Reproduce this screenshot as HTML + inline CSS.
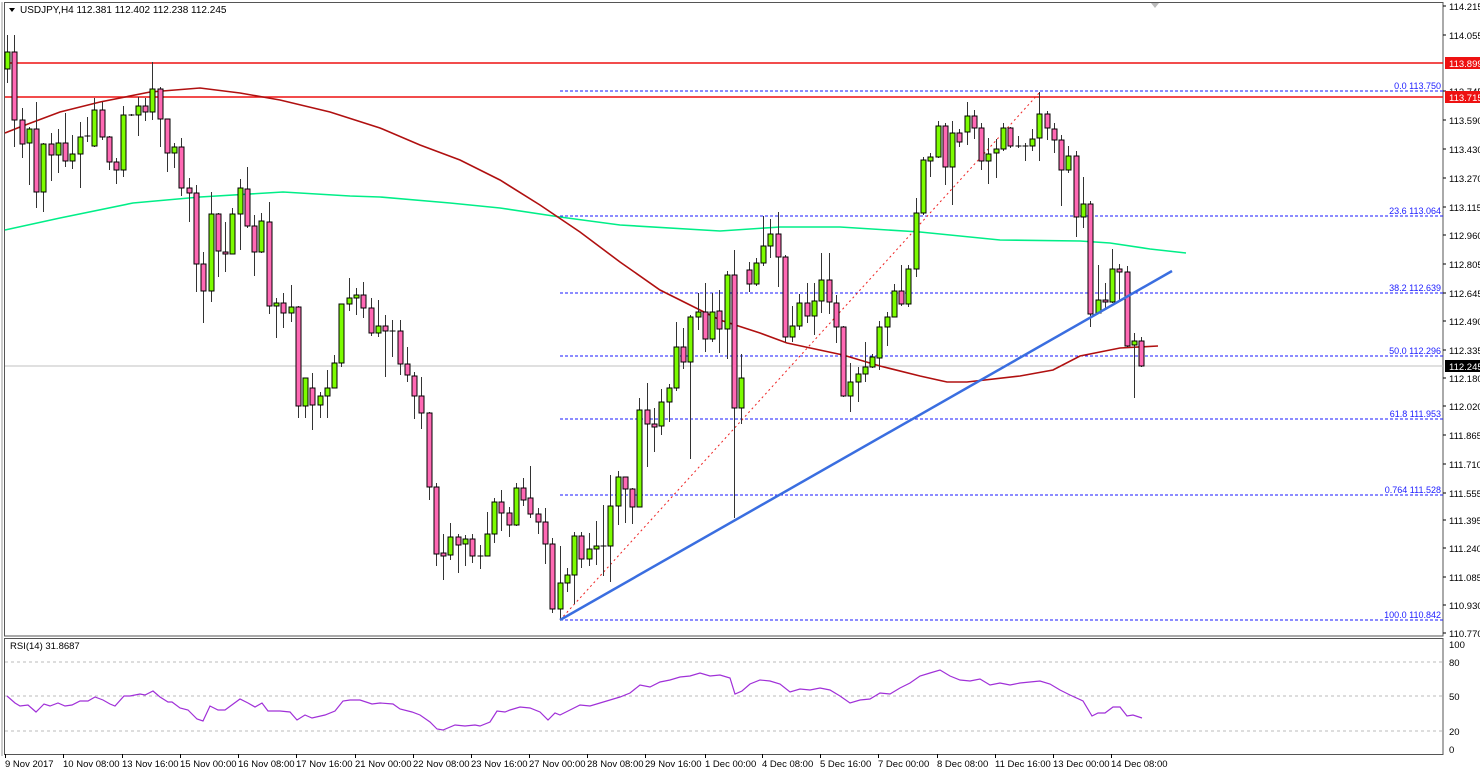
<!DOCTYPE html>
<html><head><meta charset="utf-8"><style>
html,body{margin:0;padding:0;background:#fff;}
svg{display:block;font-family:"Liberation Sans",sans-serif;}
</style></head><body>
<svg id="s" width="1480" height="772" xmlns="http://www.w3.org/2000/svg">
<rect width="1480" height="772" fill="#fff"/>
<!-- frames -->
<rect x="4.5" y="2.5" width="1438.5" height="633.5" fill="none" stroke="#555" stroke-width="1"/>
<line x1="2" y1="2" x2="2" y2="756" stroke="#999"/>
<rect x="4.5" y="638.5" width="1438.5" height="116" fill="none" stroke="#555" stroke-width="1"/>
<polygon points="1151,3 1159,3 1155,8" fill="#bbb"/>
<!-- horizontal red levels -->
<line x1="5" y1="63" x2="1443" y2="63" stroke="#ee1111" stroke-width="1.5"/>
<line x1="5" y1="97" x2="1443" y2="97" stroke="#ee1111" stroke-width="1.5"/>
<!-- current price line -->
<line x1="5" y1="366" x2="1443" y2="366" stroke="#c0c0c0" stroke-width="1"/>
<!-- fib lines -->
<g stroke="#1a1aff" stroke-width="1" stroke-dasharray="3,2">
<line x1="560" y1="91" x2="1443" y2="91"/>
<line x1="560" y1="216" x2="1443" y2="216"/>
<line x1="560" y1="293" x2="1443" y2="293"/>
<line x1="560" y1="356" x2="1443" y2="356"/>
<line x1="560" y1="419" x2="1443" y2="419"/>
<line x1="560" y1="495" x2="1443" y2="495"/>
<line x1="560" y1="620" x2="1443" y2="620"/>
</g>
<g fill="#2020ff" font-size="9" text-anchor="end">
<text x="1441" y="89">0.0 113.750</text>
<text x="1441" y="214">23.6 113.064</text>
<text x="1441" y="291">38.2 112.639</text>
<text x="1441" y="354">50.0 112.296</text>
<text x="1441" y="417">61.8 111.953</text>
<text x="1441" y="493">0.764 111.528</text>
<text x="1441" y="618">100.0 110.842</text>
</g>
<line x1="560" y1="620" x2="1041" y2="91" stroke="#ee2222" stroke-width="1" stroke-dasharray="2,3"/>
<!-- MAs -->
<polyline fill="none" stroke="#00ee88" stroke-width="1.6" points="5,230 60,218 133,203 200,197 283,192 350,196 380,197 450,203 500,208 560,217 620,225 720,231 780,227 840,227 920,232 1000,240 1080,241 1110,243 1150,249 1186,253"/>
<polyline fill="none" stroke="#b01010" stroke-width="1.6" points="5,133 20,127 60,112 100,102 150,92 200,88 240,93 280,100 330,112 380,128 420,145 460,160 500,180 540,205 580,232 620,262 660,290 700,310 720,320 760,333 787,343 843,355 880,366 920,376 947,382 967,382 1020,376 1053,370 1080,356 1120,348 1158,346"/>
<g id="candles"></g>
<line x1="560" y1="620" x2="1172" y2="271" stroke="#3a6ee0" stroke-width="2.5"/>
<!-- title -->
<polygon points="9,8 15,8 12,12" fill="#000"/>
<text x="20" y="13" font-size="10" fill="#000">USDJPY,H4  112.381 112.402 112.238 112.245</text>
<!-- price axis -->
<g font-size="9.5" fill="#000" id="pax">
<text x="1449" y="10">114.215</text>
<text x="1449" y="39">114.055</text>
<text x="1449" y="95">113.745</text>
<text x="1449" y="124">113.590</text>
<text x="1449" y="153">113.430</text>
<text x="1449" y="182">113.270</text>
<text x="1449" y="211">113.115</text>
<text x="1449" y="239">112.960</text>
<text x="1449" y="268">112.805</text>
<text x="1449" y="297">112.645</text>
<text x="1449" y="325">112.490</text>
<text x="1449" y="354">112.335</text>
<text x="1449" y="382">112.180</text>
<text x="1449" y="410">112.020</text>
<text x="1449" y="439">111.865</text>
<text x="1449" y="468">111.710</text>
<text x="1449" y="497">111.555</text>
<text x="1449" y="524">111.395</text>
<text x="1449" y="552">111.240</text>
<text x="1449" y="581">111.085</text>
<text x="1449" y="609">110.930</text>
<text x="1449" y="637">110.770</text>
</g>
<g stroke="#000">
<line x1="1443" y1="6" x2="1446" y2="6"/><line x1="1443" y1="35" x2="1446" y2="35"/><line x1="1443" y1="91" x2="1446" y2="91"/><line x1="1443" y1="120" x2="1446" y2="120"/><line x1="1443" y1="149" x2="1446" y2="149"/><line x1="1443" y1="178" x2="1446" y2="178"/><line x1="1443" y1="207" x2="1446" y2="207"/><line x1="1443" y1="235" x2="1446" y2="235"/><line x1="1443" y1="264" x2="1446" y2="264"/><line x1="1443" y1="293" x2="1446" y2="293"/><line x1="1443" y1="321" x2="1446" y2="321"/><line x1="1443" y1="350" x2="1446" y2="350"/><line x1="1443" y1="378" x2="1446" y2="378"/><line x1="1443" y1="406" x2="1446" y2="406"/><line x1="1443" y1="435" x2="1446" y2="435"/><line x1="1443" y1="464" x2="1446" y2="464"/><line x1="1443" y1="493" x2="1446" y2="493"/><line x1="1443" y1="520" x2="1446" y2="520"/><line x1="1443" y1="548" x2="1446" y2="548"/><line x1="1443" y1="577" x2="1446" y2="577"/><line x1="1443" y1="605" x2="1446" y2="605"/><line x1="1443" y1="633" x2="1446" y2="633"/>
</g>
<rect x="1445" y="57" width="35" height="12" fill="#ee1111"/>
<text x="1449" y="67" font-size="9.5" fill="#fff">113.899</text>
<rect x="1445" y="91" width="35" height="12" fill="#ee1111"/>
<text x="1449" y="101" font-size="9.5" fill="#fff">113.715</text>
<rect x="1445" y="360" width="35" height="12" fill="#000"/>
<text x="1449" y="370" font-size="9.5" fill="#fff">112.245</text>
<!-- RSI -->
<text x="10" y="649" font-size="9.5" fill="#000">RSI(14) 31.8687</text>
<g stroke="#bbb" stroke-dasharray="3,3">
<line x1="5" y1="662" x2="1443" y2="662"/>
<line x1="5" y1="696" x2="1443" y2="696"/>
<line x1="5" y1="731" x2="1443" y2="731"/>
</g>
<g font-size="9.5" fill="#000">
<text x="1449" y="648">100</text><text x="1449" y="666">80</text><text x="1449" y="700">50</text><text x="1449" y="735">20</text><text x="1449" y="753">0</text>
</g>
<polyline fill="none" stroke="#a030d8" stroke-width="1.2" points="7,696 15,703 20,706 28,705 36,712 44,704 50,706 58,703 65,706 72,705 80,701 88,701 95,697 103,700 110,704 115,706 124,696 130,696 140,694 145,695 153,691 160,697 168,702 172,702 180,708 188,710 197,719 203,721 210,706 218,710 225,710 240,699 248,703 255,707 262,703 268,711 280,711 290,712 297,720 305,715 312,718 325,715 335,711 343,701 350,700 360,700 372,704 380,703 393,704 400,709 412,712 420,715 430,722 437,729 443,730 455,725 465,726 475,725 480,726 490,722 497,711 505,712 510,710 520,707 530,708 540,712 548,720 555,713 560,715 570,710 580,705 590,706 600,703 610,700 620,697 630,693 640,685 650,687 660,682 670,680 680,677 690,676 700,673 710,676 720,675 730,678 735,694 742,691 750,684 760,680 770,681 780,684 790,692 800,689 810,690 820,688 830,690 840,696 850,703 860,700 870,699 880,693 890,694 900,688 910,683 920,676 930,673 940,670 950,676 960,680 970,681 980,679 990,685 1000,683 1010,685 1020,683 1030,682 1040,681 1050,684 1060,690 1070,695 1083,701 1092,716 1098,713 1105,713 1113,707 1120,707 1127,716 1133,715 1142,718"/>
<!-- time axis -->
<g font-size="9.5" fill="#000">
<text x="5" y="767">9 Nov 2017</text>
<text x="63" y="767">10 Nov 08:00</text>
<text x="122" y="767">13 Nov 16:00</text>
<text x="180" y="767">15 Nov 00:00</text>
<text x="238" y="767">16 Nov 08:00</text>
<text x="296" y="767">17 Nov 16:00</text>
<text x="355" y="767">21 Nov 00:00</text>
<text x="413" y="767">22 Nov 08:00</text>
<text x="471" y="767">23 Nov 16:00</text>
<text x="529" y="767">27 Nov 00:00</text>
<text x="587" y="767">28 Nov 08:00</text>
<text x="645" y="767">29 Nov 16:00</text>
<text x="705" y="767">1 Dec 00:00</text>
<text x="762" y="767">4 Dec 08:00</text>
<text x="820" y="767">5 Dec 16:00</text>
<text x="878" y="767">7 Dec 00:00</text>
<text x="937" y="767">8 Dec 08:00</text>
<text x="995" y="767">11 Dec 16:00</text>
<text x="1053" y="767">13 Dec 00:00</text>
<text x="1111" y="767">14 Dec 08:00</text>
</g>
<g id="tticks" stroke="#000"></g>
</svg>
<script>
var d=[[69,52,35,83],[52,120,35,147],[120,144,108,158],[143,129,127,185],[129,192,102,208],[192,144,143,212],[144,155,133,181],[155,143,129,173],[143,161,113,167],[161,154,135,169],[154,137,122,188],[136,136,117,142],[146,110,98,147],[110,137,102,140],[137,162,136,170],[162,170,158,184],[170,115,106,177],[115,115,114,116],[115,106,97,136],[106,112,98,121],[112,89,62,120],[89,119,87,147],[119,153,119,172],[153,147,143,168],[147,188,138,196],[188,193,178,222],[193,264,185,292],[264,291,252,323],[291,214,192,302],[214,251,213,277],[252,254,222,272],[254,214,208,254],[214,188,179,250],[189,226,167,228],[226,252,215,276],[252,221,213,253],[222,306,202,314],[306,303,298,338],[303,313,293,328],[313,307,285,322],[307,406,306,418],[406,378,378,418],[388,405,373,430],[405,396,392,418],[396,388,370,418],[388,363,355,388],[363,304,304,367],[304,298,278,311],[298,295,288,315],[295,308,282,318],[308,333,298,336],[333,326,300,337],[326,331,315,377],[331,331,320,357],[331,364,320,375],[364,375,347,382],[376,396,372,419],[396,413,377,429],[413,487,412,500],[487,554,483,566],[553,556,534,580],[555,537,523,560],[537,545,534,573],[544,539,535,566],[539,556,534,563],[556,556,545,569],[556,534,512,556],[534,502,498,543],[502,513,490,531],[513,525,507,537],[525,488,483,526],[488,500,478,506],[498,514,466,518],[514,522,508,534],[522,544,508,564],[544,609,538,613],[609,583,546,619],[583,575,568,592],[575,536,532,604],[536,559,532,568],[559,549,533,566],[549,546,521,565],[546,546,505,576],[546,506,475,582],[506,477,471,525],[477,489,477,523],[489,507,488,524],[507,410,398,507],[410,424,383,467],[424,427,408,452],[426,402,389,435],[402,388,384,422],[388,347,322,391],[347,362,328,369],[362,317,315,459],[317,312,293,330],[312,339,283,352],[339,312,293,342],[311,329,290,353],[329,275,271,359],[275,408,250,518],[408,378,354,424],[270,284,262,292],[284,263,258,286],[263,246,216,266],[246,234,219,258],[234,257,212,287],[257,337,255,342],[337,326,306,342],[326,303,294,330],[303,316,283,323],[316,301,283,335],[301,280,253,313],[280,302,253,314],[303,327,295,343],[327,396,326,397],[396,382,363,412],[382,374,367,402],[374,367,342,382],[367,357,354,368],[358,327,321,370],[327,317,312,346],[317,291,284,317],[291,304,265,306],[304,269,265,307],[269,213,198,277],[213,160,157,215],[161,157,153,177],[157,126,121,158],[126,167,123,185],[167,133,121,205],[133,142,129,147],[132,116,102,145],[116,128,110,139],[128,161,123,170],[161,154,138,184],[153,149,139,178],[149,128,123,151],[128,146,127,148],[146,146,136,148],[146,146,143,161],[146,139,129,151],[138,114,92,161],[114,128,111,140],[129,140,123,153],[140,170,135,206],[170,156,146,173],[156,217,151,237],[217,204,177,228],[204,314,201,327],[313,300,265,314],[300,302,283,308],[302,269,249,303],[269,272,264,302],[272,346,266,347],[345,341,333,398],[341,366,337,367]];
var ns="http://www.w3.org/2000/svg",g=document.getElementById("candles"),h="";
for(var i=0;i<d.length;i++){var x=Math.round(7+i*7.27)+0.5,o=d[i][0],c=d[i][1],hi=d[i][2],lo=d[i][3];
h+='<line x1="'+x+'" y1="'+hi+'" x2="'+x+'" y2="'+lo+'" stroke="#333" stroke-width="1"/>';
var t=Math.min(o,c),b=Math.max(o,c);
if(b-t<1){h+='<line x1="'+(x-3)+'" y1="'+t+'" x2="'+(x+3)+'" y2="'+t+'" stroke="#000" stroke-width="1"/>';}
else{h+='<rect x="'+(x-2.5)+'" y="'+t+'" width="5" height="'+(b-t)+'" fill="'+(c<o?'#7cfc00':'#ff69b4')+'" stroke="#000" stroke-width="1"/>';}}
g.innerHTML=h;
var tx=[5,63,122,180,238,296,355,413,471,529,587,645,705,762,820,878,937,995,1053,1111],th="";
for(var j=0;j<tx.length;j++){th+='<line x1="'+(tx[j]+0.5)+'" y1="754" x2="'+(tx[j]+0.5)+'" y2="758"/>';}
document.getElementById("tticks").innerHTML=th;
</script>
</body></html>
